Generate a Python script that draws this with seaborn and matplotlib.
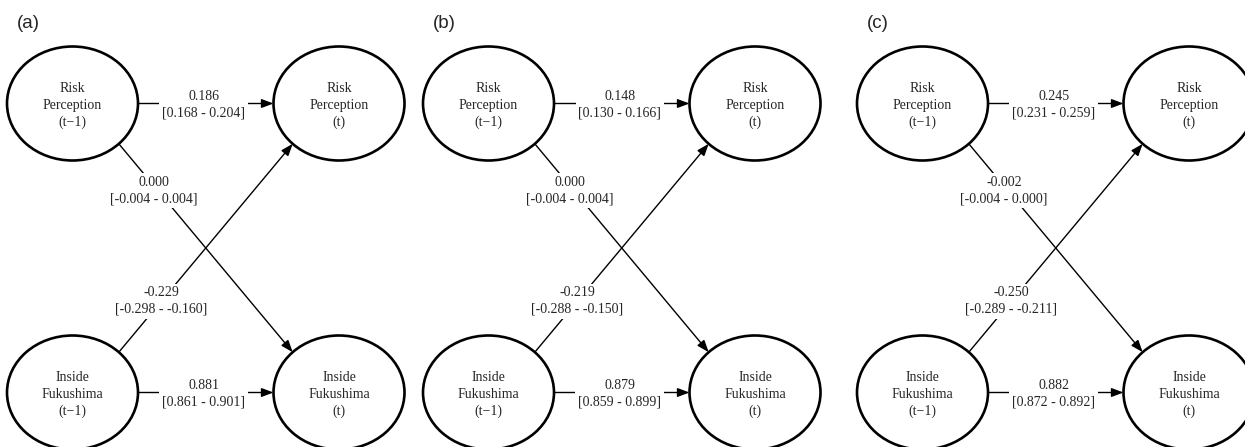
import matplotlib
matplotlib.use("Agg")
import matplotlib.pyplot as plt
import seaborn as sns
import numpy as np
from matplotlib.patches import Ellipse, FancyArrowPatch

# path coefficients with confidence intervals, one entry per panel
panels = ['(a)', '(b)', '(c)']
rp_rp = [0.186, 0.148, 0.245]
rp_rp_lo = [0.168, 0.130, 0.231]
rp_rp_hi = [0.204, 0.166, 0.259]
rp_if = [0.000, 0.000, -0.002]
rp_if_lo = [-0.004, -0.004, -0.004]
rp_if_hi = [0.004, 0.004, 0.000]
if_rp = [-0.229, -0.219, -0.250]
if_rp_lo = [-0.298, -0.288, -0.289]
if_rp_hi = [-0.160, -0.150, -0.211]
if_if = [0.881, 0.879, 0.882]
if_if_lo = [0.861, 0.859, 0.872]
if_if_hi = [0.901, 0.899, 0.892]

node_names = {'rp': 'Risk\nPerception', 'if': 'Inside\nFukushima'}

sns.set_theme(style="white")
plt.rcParams['font.family'] = ['Liberation Serif', 'DejaVu Serif']

fig = plt.figure(figsize=(12.45, 4.47), dpi=100)
ax = fig.add_axes([0, 0, 1, 1])
ax.set_xlim(0, 1245)
ax.set_ylim(447, 0)
ax.axis('off')

# layout (pixels)
offsets = [0, 416, 850]
lx, rx = 72.5, 339
ty, by = 103.5, 392.5
sa, sb = 65.5, 57   # ellipse semi axes
fs = 10
ls = 1.36


def label(x, y, v, lo, hi):
    ax.text(x, y, f"{v:.3f}\n[{lo:.3f} - {hi:.3f}]", ha='center', va='center',
            fontsize=fs, linespacing=ls, zorder=4,
            bbox=dict(facecolor='white', edgecolor='none', pad=2))


def arrow(p0, p1):
    ax.add_patch(FancyArrowPatch(p0, p1, arrowstyle='-|>,head_length=0.8,head_width=0.3',
                                 mutation_scale=9, lw=1.0, color='black',
                                 shrinkA=0, shrinkB=0, zorder=2))


for i, name in enumerate(panels):
    ox = offsets[i]
    ax.text(ox + 17, 24, name, ha='left', va='center', fontsize=13.5,
            family=['Liberation Sans', 'DejaVu Sans'])

    for cx, cy, key, tag in [(lx, ty, 'rp', 't\u22121'), (rx, ty, 'rp', 't'),
                             (lx, by, 'if', 't\u22121'), (rx, by, 'if', 't')]:
        ax.add_patch(Ellipse((ox + cx, cy), 2 * sa, 2 * sb, facecolor='white',
                             edgecolor='black', lw=1.9, zorder=3))
        ax.text(ox + cx, cy + 2, f"{node_names[key]}\n({tag})", ha='center', va='center',
                fontsize=fs, linespacing=ls, multialignment='center', zorder=5)

    d = np.cos(np.pi / 4)
    # horizontal paths
    for cy, v, lo, hi in [(ty, rp_rp[i], rp_rp_lo[i], rp_rp_hi[i]),
                          (by, if_if[i], if_if_lo[i], if_if_hi[i])]:
        arrow((ox + lx + sa, cy), (ox + rx - sa, cy))
        label(ox + (lx + rx) / 2 - 2, cy + 1.5, v, lo, hi)

    # cross-lagged paths
    p0 = np.array([ox + lx + sa * d, ty + sb * d])
    p1 = np.array([ox + rx - sa * d, by - sb * d])
    arrow(p0, p1)
    q = p0 + 0.225 * (p1 - p0)
    label(q[0] - 4, q[1], rp_if[i], rp_if_lo[i], rp_if_hi[i])

    p0 = np.array([ox + lx + sa * d, by - sb * d])
    p1 = np.array([ox + rx - sa * d, ty + sb * d])
    arrow(p0, p1)
    q = p0 + 0.245 * (p1 - p0)
    label(q[0], q[1], if_rp[i], if_rp_lo[i], if_rp_hi[i])

fig.savefig('out.png', dpi=100)
